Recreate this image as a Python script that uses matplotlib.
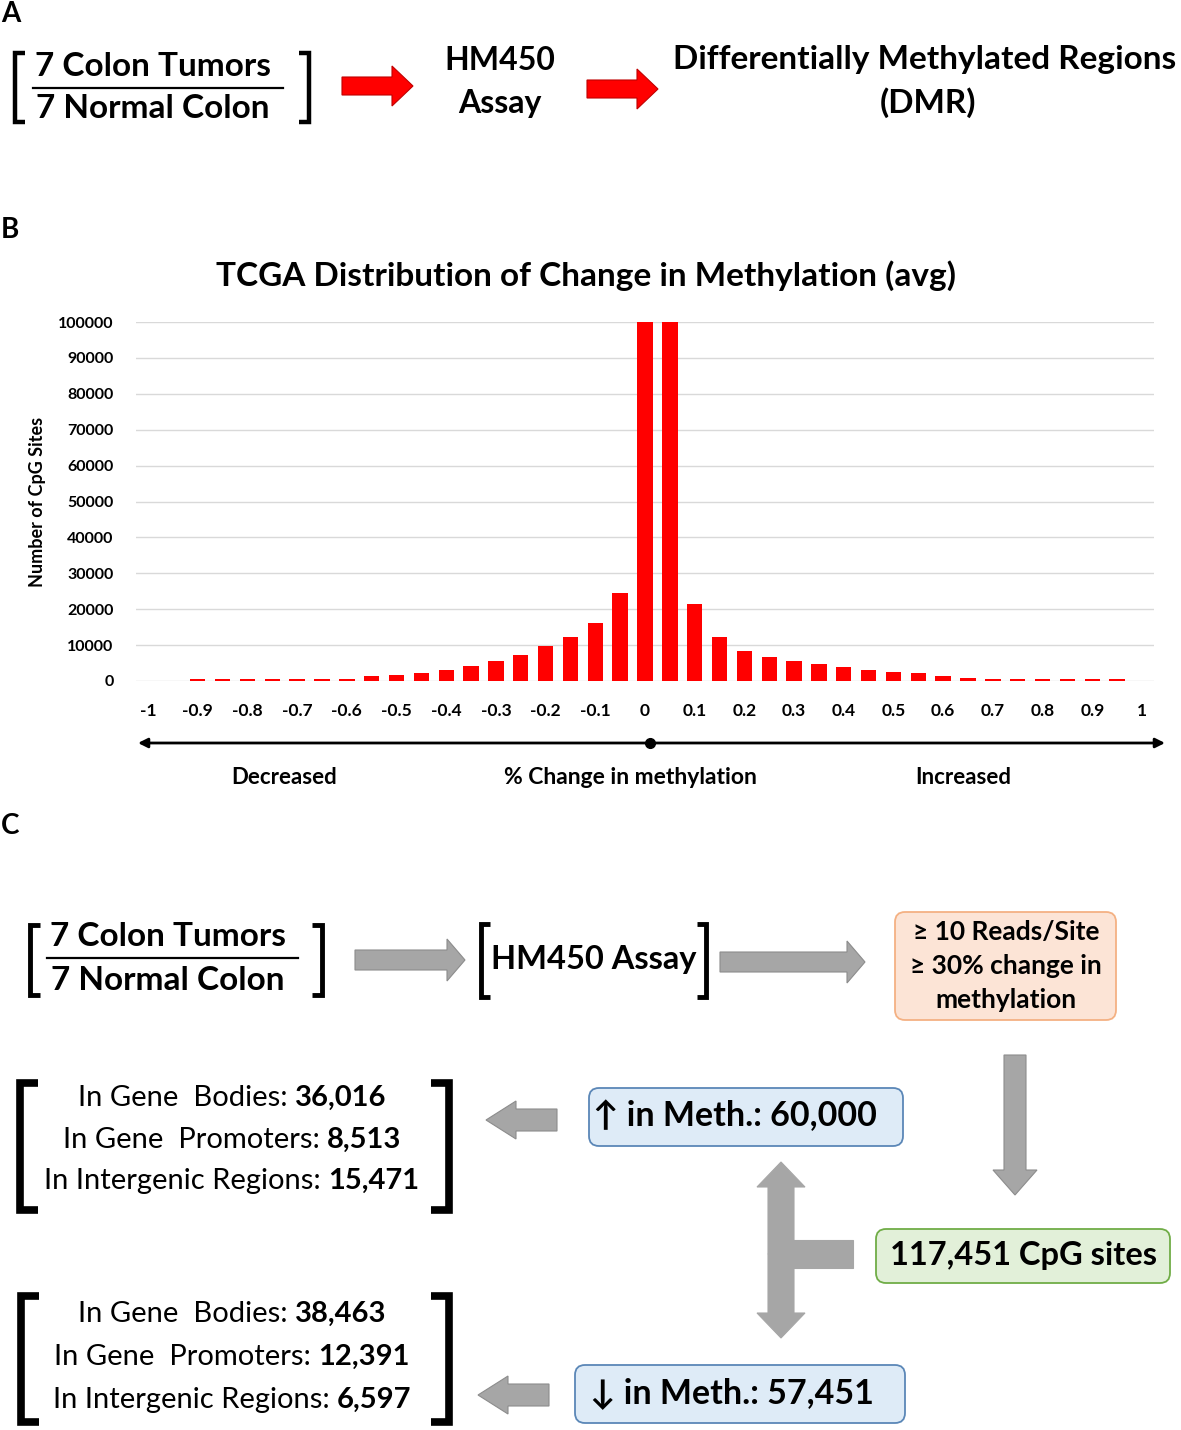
"""Three-panel figure: DMR workflow, TCGA methylation-change histogram, CpG site breakdown."""

import matplotlib
matplotlib.use("Agg")
import matplotlib.pyplot as plt
from matplotlib.patches import FancyArrow, FancyBboxPatch, Rectangle

plt.rcParams["font.family"] = ["Lato", "DejaVu Sans"]

W, H = 1181, 1430

# histogram data: change in methylation bins (step 0.05) and CpG counts
bins = [-1.0, -0.95, -0.9, -0.85, -0.8, -0.75, -0.7, -0.65, -0.6, -0.55,
        -0.5, -0.45, -0.4, -0.35, -0.3, -0.25, -0.2, -0.15, -0.1, -0.05,
        0.0, 0.05, 0.1, 0.15, 0.2, 0.25, 0.3, 0.35, 0.4, 0.45,
        0.5, 0.55, 0.6, 0.65, 0.7, 0.75, 0.8, 0.85, 0.9, 0.95, 1.0]
counts = [0, 0, 550, 550, 550, 550, 550, 550, 550, 1300,
          1750, 2200, 3100, 4300, 5600, 7250, 9750, 12300, 16200, 24500,
          100000, 100000, 21500, 12300, 8450, 6800, 5600, 4650, 3800, 3050,
          2500, 2150, 1300, 900, 550, 500, 500, 500, 500, 500, 0]
y_ticks = [0, 10000, 20000, 30000, 40000, 50000, 60000, 70000, 80000, 90000, 100000]

# panel C numbers
up_total = "60,000"
down_total = "57,451"
cpg_total = "117,451"
up_regions = [("In Gene  Bodies: ", "36,016"),
              ("In Gene  Promoters: ", "8,513"),
              ("In Intergenic Regions: ", "15,471")]
down_regions = [("In Gene  Bodies: ", "38,463"),
                ("In Gene  Promoters: ", "12,391"),
                ("In Intergenic Regions: ", "6,597")]

GRAY = "#A6A6A6"
GRAY_EDGE = "#8C8C8C"
BIG = 24

fig = plt.figure(figsize=(W / 100, H / 100), dpi=100)
ax = fig.add_axes([0, 0, 1, 1])
ax.set_xlim(0, W)
ax.set_ylim(H, 0)
ax.axis("off")


def bracket(x, y0, y1, serif, lw):
    ax.plot([x + serif, x, x, x + serif], [y0, y0, y1, y1], color="black",
            lw=lw, solid_joinstyle="miter", solid_capstyle="butt")


def arrow(x0, y0, x1, y1, width, head_w, head_len, face=GRAY, edge=GRAY_EDGE):
    ax.add_patch(FancyArrow(x0, y0, x1 - x0, y1 - y0, width=width,
                            head_width=head_w, head_length=head_len,
                            length_includes_head=True, fc=face, ec=edge, lw=0.8))


def box(x0, y0, x1, y1, face, edge):
    ax.add_patch(FancyBboxPatch((x0, y0), x1 - x0, y1 - y0,
                                boxstyle="round,pad=0,rounding_size=10",
                                fc=face, ec=edge, lw=1.3))


def fraction(cx, y_top, y_line, y_bot, x0, x1, size):
    ax.text(cx, y_top, "7 Colon Tumors", ha="center", va="center",
            fontsize=size, fontweight="bold")
    ax.plot([x0, x1], [y_line, y_line], color="black", lw=1.6)
    ax.text(cx, y_bot, "7 Normal Colon", ha="center", va="center",
            fontsize=size, fontweight="bold")


# ---------------- panel A ----------------
ax.text(1, 14, "A", fontsize=20, fontweight="bold", va="center")
bracket(15, 53, 122, 10, 3.2)
bracket(309, 53, 122, -10, 3.2)
fraction(153, 66, 88, 108, 33, 283, BIG)
arrow(342, 86, 413, 86, 18, 40, 21, face="#FF0000", edge="#C00000")
ax.text(500, 60, "HM450", ha="center", va="center", fontsize=23, fontweight="bold")
ax.text(500, 104, "Assay", ha="center", va="center", fontsize=23, fontweight="bold")
arrow(587, 89, 658, 89, 18, 40, 21, face="#FF0000", edge="#C00000")
ax.text(925, 60, "Differentially Methylated Regions", ha="center", va="center",
        fontsize=BIG, fontweight="bold")
ax.text(928, 103, "(DMR)", ha="center", va="center", fontsize=BIG, fontweight="bold")

# ---------------- panel B ----------------
ax.text(1, 230, "B", fontsize=20, fontweight="bold", va="center")
ax.text(586, 276, "TCGA Distribution of Change in Methylation (avg)", ha="center",
        va="center", fontsize=24, fontweight="bold")

left_px, right_px, top_px, bot_px = 135.6, 1154.4, 322, 681
axb = fig.add_axes([left_px / W, 1 - bot_px / H, (right_px - left_px) / W,
                    (bot_px - top_px) / H])
pos = list(range(len(bins)))
axb.bar(pos, counts, width=0.62, color="#FF0000", zorder=3)
axb.set_xlim(-0.5, len(bins) - 0.5)
axb.set_ylim(0, 100000)
axb.set_yticks(y_ticks)
axb.set_yticklabels([str(v) for v in y_ticks], fontsize=11.5, fontweight="bold")
axb.set_xticks(pos[::2])
axb.set_xticklabels([f"{b:g}" for b in bins[::2]], fontsize=12.5, fontweight="bold")
axb.tick_params(axis="y", length=0, pad=16)
axb.tick_params(axis="x", length=0, pad=16)
axb.grid(axis="y", color="#D9D9D9", lw=1, zorder=0)
for s in axb.spines.values():
    s.set_visible(False)
axb.patch.set_alpha(0)
axb.set_ylabel("Number of CpG Sites", fontsize=13, fontweight="bold")
axb.yaxis.set_label_coords((46 - left_px) / (right_px - left_px), 0.5)

ax.annotate("", xy=(1165, 743), xytext=(138, 743),
            arrowprops=dict(arrowstyle="<|-|>", color="black", lw=2,
                            mutation_scale=14, shrinkA=0, shrinkB=0))
ax.plot([650], [743], "o", color="black", ms=7)
ax.text(284, 777, "Decreased", ha="center", va="center", fontsize=16, fontweight="bold")
ax.text(630, 777, "% Change in methylation", ha="center", va="center",
        fontsize=16.5, fontweight="bold")
ax.text(963, 777, "Increased", ha="center", va="center", fontsize=16, fontweight="bold")

# ---------------- panel C ----------------
ax.text(1, 826, "C", fontsize=20, fontweight="bold", va="center")
bracket(30, 925, 995, 10, 3.5)
bracket(322, 925, 995, -10, 3.5)
fraction(168, 937, 958, 981, 47, 298, BIG)
arrow(355, 960, 465, 960, 20, 42, 18)
bracket(481, 924, 997, 9, 3.5)
bracket(706, 924, 997, -9, 3.5)
ax.text(594, 960, "HM450 Assay", ha="center", va="center", fontsize=23.5, fontweight="bold")
arrow(720, 962, 865, 962, 20, 42, 18)

box(895, 912, 1116, 1020, "#FCE4D6", "#F4B183")
for y, line in zip([932, 966, 1000], ["≥ 10 Reads/Site", "≥ 30% change in", "methylation"]):
    ax.text(1006, y, line, ha="center", va="center", fontsize=19, fontweight="bold")

arrow(1015, 1055, 1015, 1195, 22, 44, 25)

box(876, 1229, 1170, 1283, "#E2F0D9", "#70AD47")
ax.text(1024, 1255, f"{cpg_total} CpG sites", ha="center", va="center",
        fontsize=23.5, fontweight="bold")

# T-shaped split arrow
arrow(781, 1254, 781, 1162, 26, 48, 25, edge=GRAY)
arrow(781, 1254, 781, 1338, 26, 48, 25, edge=GRAY)
ax.add_patch(Rectangle((781, 1240), 72, 28, fc=GRAY, ec=GRAY, lw=0.8))

box(589, 1088, 903, 1146, "#DEEBF7", "#5B87B7")
ax.text(593, 1116, f"↑ in Meth.: {up_total}", ha="left", va="center",
        fontsize=24.5, fontweight="bold")
box(575, 1365, 905, 1423, "#DEEBF7", "#5B87B7")
ax.text(590, 1393, f"↓ in Meth.: {down_total}", ha="left", va="center",
        fontsize=24.5, fontweight="bold")

arrow(557, 1120, 486, 1120, 22, 38, 30)
arrow(549, 1395, 478, 1395, 22, 38, 30)

renderer = fig.canvas.get_renderer()


def mixed_line(cx, y, plain, bold, size):
    t1 = ax.text(0, y, plain, ha="left", va="center", fontsize=size)
    t2 = ax.text(0, y, bold, ha="left", va="center", fontsize=size, fontweight="bold")
    w1 = t1.get_window_extent(renderer).width
    w2 = t2.get_window_extent(renderer).width
    x0 = cx - (w1 + w2) / 2
    t1.set_x(x0)
    t2.set_x(x0 + w1)


bracket(20, 1083, 1210, 18, 5.5)
bracket(449, 1083, 1210, -18, 5.5)
for y, (plain, num) in zip([1098, 1140, 1181], up_regions):
    mixed_line(232, y, plain, num, 21)

bracket(21, 1296, 1422, 18, 5.5)
bracket(449, 1296, 1422, -18, 5.5)
for y, (plain, num) in zip([1314, 1357, 1400], down_regions):
    mixed_line(232, y, plain, num, 21)

fig.savefig("out.png", dpi=100)
